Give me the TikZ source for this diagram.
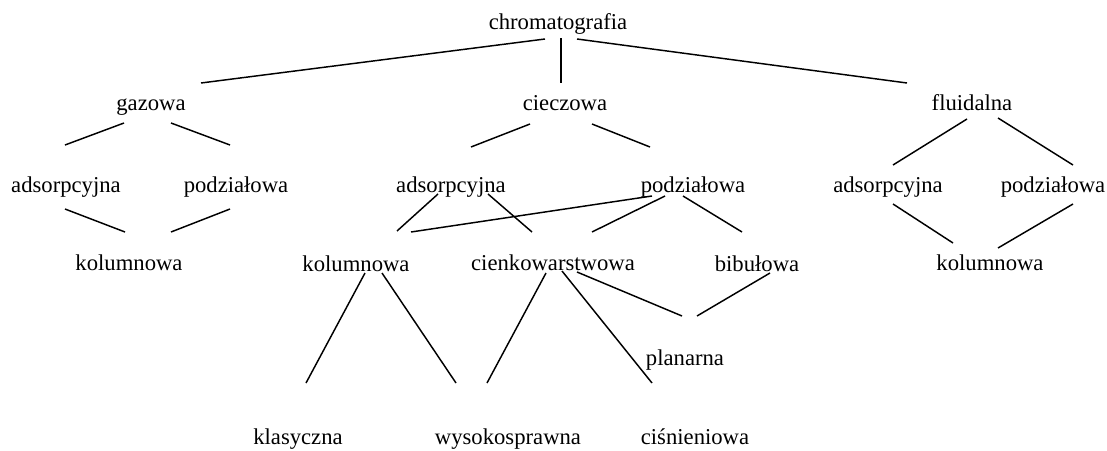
\documentclass[tikz,border=0pt]{standalone}
\usepackage{fontspec}
\setmainfont{Liberation Serif}
\usepackage{tikz}
\usetikzlibrary{calc}
\tikzstyle{term} = [anchor=base, inner sep=0pt, font=\fontsize{17}{20}\selectfont]
\tikzstyle{branchline} = [line width=1.1pt]

\begin{document}
\begin{tikzpicture}[x=0.75pt, y=-0.75pt]

    \useasboundingbox (0,0) rectangle (1107,450);

    \node (chrom) [term] at (558,29) {chromatografia};

    \node (gaz) [term] at (151,110) {gazowa};
    \node (ciecz) [term] at (565,110) {cieczowa};
    \node (fluid) [term] at (972,110) {fluidalna};

    \node (ads_gaz) [term] at (66,192) {adsorpcyjna};
    \node (pod_gaz) [term] at (236,192) {podziałowa};
    \node (ads_ciecz) [term] at (451,192) {adsorpcyjna};
    \node (pod_ciecz) [term] at (693,192) {podziałowa};
    \node (ads_fluid) [term] at (888,192) {adsorpcyjna};
    \node (pod_fluid) [term] at (1053,192) {podziałowa};

    \node (kol_gaz) [term] at (129,270) {kolumnowa};
    \node (kol_ciecz) [term] at (356,271) {kolumnowa};
    \node (cienk) [term] at (553,270) {cienkowarstwowa};
    \node (bibul) [term] at (757,271) {bibułowa};
    \node (kol_fluid) [term] at (990,270) {kolumnowa};

    \node (planar) [term] at (685,365) {planarna};

    \node (klas) [term] at (298,444) {klasyczna};
    \node (wysok) [term] at (508,444) {wysokosprawna};
    \node (cisn) [term] at (695,444) {ciśnieniowa};

    \draw [branchline] ($(chrom.base)+(-13,10)$) -- ($(gaz.base)+(50,-27)$);
    \draw [branchline] ($(chrom.base)+(3,9)$) -- ($(ciecz.base)+(-4,-27)$);
    \draw [branchline] ($(chrom.base)+(19,10)$) -- ($(fluid.base)+(-65,-27)$);

    \draw [branchline] ($(gaz.base)+(-27,13)$) -- ($(ads_gaz.base)+(-1,-47)$);
    \draw [branchline] ($(gaz.base)+(20,13)$) -- ($(pod_gaz.base)+(-6,-47)$);
    \draw [branchline] ($(ads_gaz.base)+(-1,17)$) -- ($(kol_gaz.base)+(-4,-38)$);
    \draw [branchline] ($(pod_gaz.base)+(-6,17)$) -- ($(kol_gaz.base)+(42,-38)$);

    \draw [branchline] ($(ciecz.base)+(-35,14)$) -- ($(ads_ciecz.base)+(20,-45)$);
    \draw [branchline] ($(ciecz.base)+(27,14)$) -- ($(pod_ciecz.base)+(-43,-45)$);
    \draw [branchline] ($(ads_ciecz.base)+(-13,2)$) -- ($(kol_ciecz.base)+(41,-40)$);
    \draw [branchline] ($(ads_ciecz.base)+(37,2)$) -- ($(cienk.base)+(-21,-38)$);
    \draw [branchline] ($(pod_ciecz.base)+(-41,4)$) -- ($(kol_ciecz.base)+(55,-39)$);
    \draw [branchline] ($(pod_ciecz.base)+(-28,4)$) -- ($(cienk.base)+(39,-38)$);
    \draw [branchline] ($(pod_ciecz.base)+(-10,4)$) -- ($(bibul.base)+(-15,-39)$);

    \draw [branchline] ($(fluid.base)+(-5,9)$) -- ($(ads_fluid.base)+(5,-27)$);
    \draw [branchline] ($(fluid.base)+(26,8)$) -- ($(pod_fluid.base)+(20,-27)$);
    \draw [branchline] ($(ads_fluid.base)+(5,12)$) -- ($(kol_fluid.base)+(-37,-27)$);
    \draw [branchline] ($(pod_fluid.base)+(20,12)$) -- ($(kol_fluid.base)+(8,-22)$);

    \draw [branchline] ($(kol_ciecz.base)+(9,2)$) -- ($(klas.base)+(8,-61)$);
    \draw [branchline] ($(kol_ciecz.base)+(26,2)$) -- ($(wysok.base)+(-52,-61)$);
    \draw [branchline] ($(cienk.base)+(-7,3)$) -- ($(wysok.base)+(-21,-61)$);
    \draw [branchline] ($(cienk.base)+(9,1)$) -- ($(cisn.base)+(-43,-61)$);
    \draw [branchline] ($(cienk.base)+(24,2)$) -- ($(planar.base)+(-3,-49)$);
    \draw [branchline] ($(bibul.base)+(13,2)$) -- ($(planar.base)+(12,-49)$);

\end{tikzpicture}
\end{document}
